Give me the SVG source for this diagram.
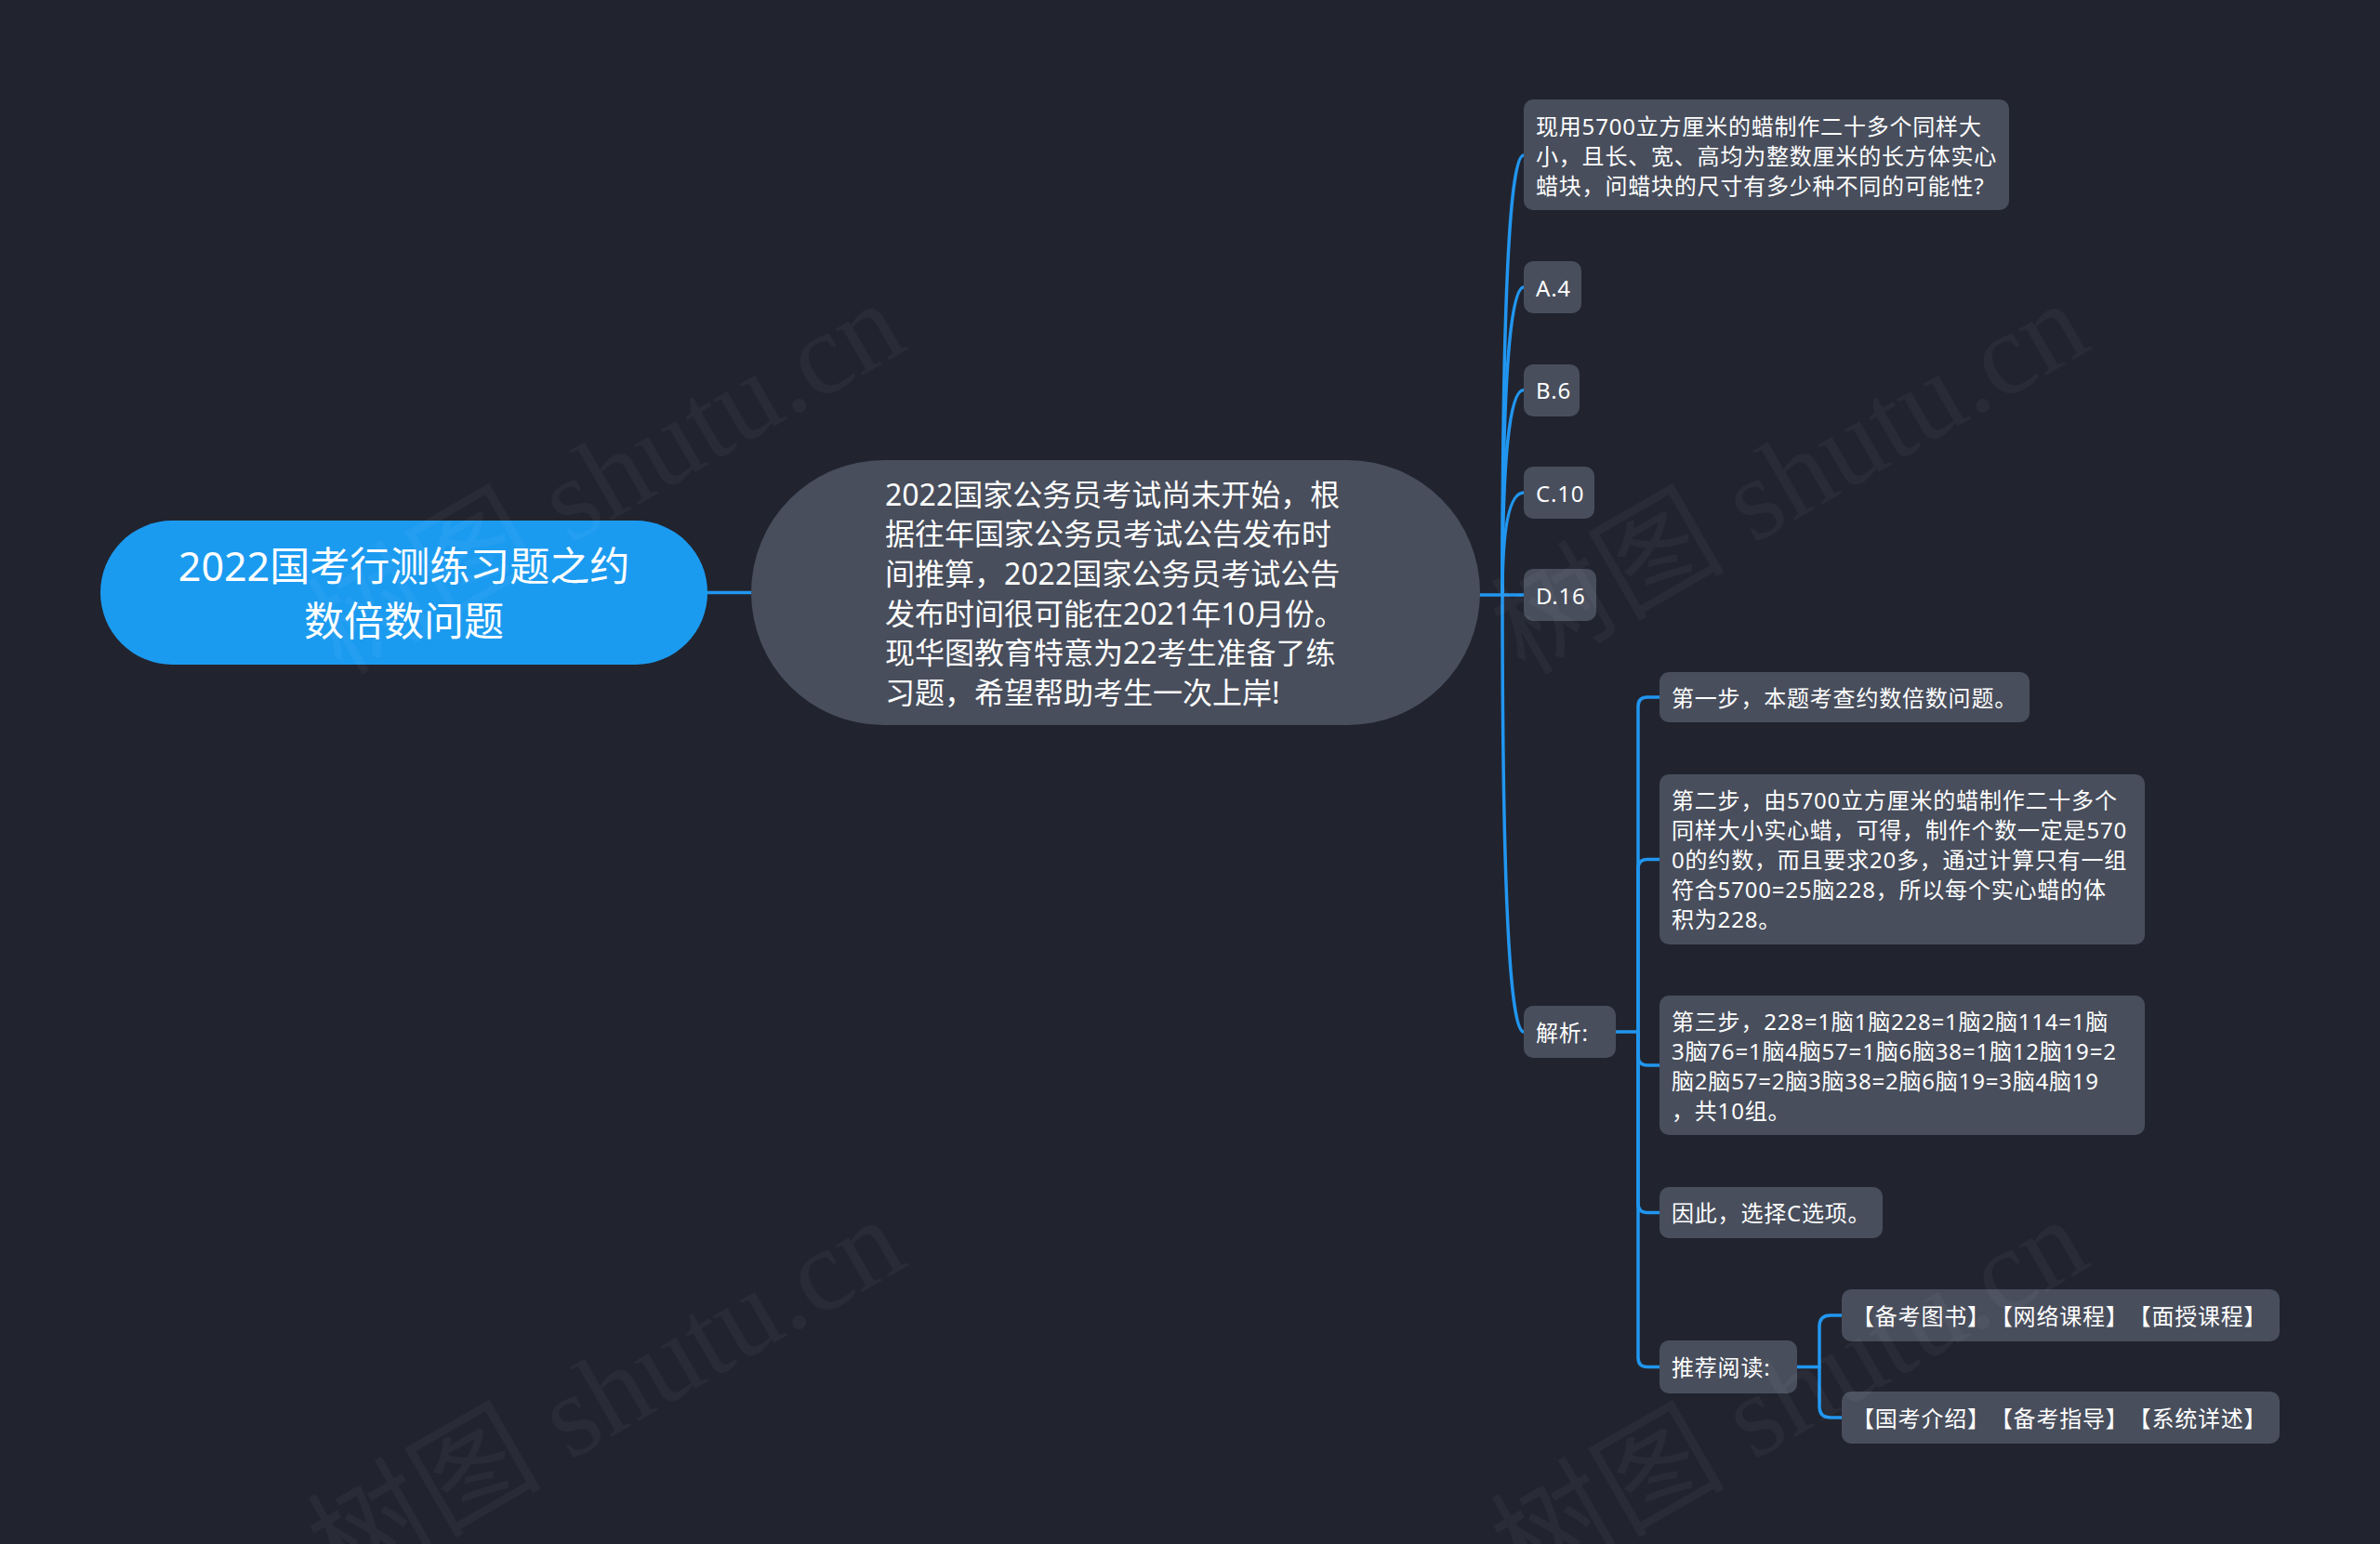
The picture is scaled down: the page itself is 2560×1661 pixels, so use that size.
<svg xmlns="http://www.w3.org/2000/svg" width="2560" height="1661" viewBox="0 0 2560 1661">
<style>
.bg{fill:#21242f}
.node{fill:#484e5c}
.root{fill:#1b9bf0}
.t{font-family:"Noto Sans","Noto Sans CJK SC",sans-serif;fill:#ffffff;dominant-baseline:central;text-spacing-trim:space-all}
.t24{font-size:24px;letter-spacing:0.8px}
.t32{font-size:32px}
.t43{font-size:43px}
.conn{fill:none;stroke:#2196f0;stroke-width:3.5;stroke-linecap:round}
.wm{font-family:"Liberation Serif","Noto Sans CJK SC",serif;font-size:126px;fill:#ffffff;fill-opacity:0.04}
</style>
<rect class="bg" x="0" y="0" width="2560" height="1661"/>

<g id="connectors">
  <path class="conn" d="M761 637.5 H808"/>
  <path class="conn" d="M1592 640 H1616"/>
  <path class="conn" d="M1616 640 Q1616 167 1639 167"/>
  <path class="conn" d="M1616 640 Q1616 309 1639 309"/>
  <path class="conn" d="M1616 640 Q1616 419.5 1639 419.5"/>
  <path class="conn" d="M1616 640 Q1616 530 1639 530"/>
  <path class="conn" d="M1616 640 H1639"/>
  <path class="conn" d="M1616 640 Q1616 1110 1639 1110"/>
  <path class="conn" d="M1738 1110 H1762"/>
  <path class="conn" d="M1762 1110 V760 Q1762 750 1772 750 H1785"/>
  <path class="conn" d="M1762 1110 V934.5 Q1762 924.5 1772 924.5 H1785"/>
  <path class="conn" d="M1762 1110 V1136 Q1762 1146 1772 1146 H1785"/>
  <path class="conn" d="M1762 1110 V1294.5 Q1762 1304.5 1772 1304.5 H1785"/>
  <path class="conn" d="M1762 1110 V1460.5 Q1762 1470.5 1772 1470.5 H1785"/>
  <path class="conn" d="M1933 1470.5 H1957"/>
  <path class="conn" d="M1957 1470.5 V1427 Q1957 1415 1969 1415 H1981"/>
  <path class="conn" d="M1957 1470.5 V1513 Q1957 1525 1969 1525 H1981"/>
</g>

<g id="root">
  <rect class="root" x="108" y="560" width="653" height="155" rx="77.5"/>
  <text class="t t43" x="434.5" y="608" text-anchor="middle">2022国考行测练习题之约</text>
  <text class="t t43" x="434.5" y="667" text-anchor="middle">数倍数问题</text>
</g>

<g id="intro">
  <rect class="node" x="808" y="495" width="784" height="285" rx="142.5"/>
  <text class="t t32" x="952" y="531">2022国家公务员考试尚未开始，根</text>
  <text class="t t32" x="952" y="573.5">据往年国家公务员考试公告发布时</text>
  <text class="t t32" x="952" y="616">间推算，2022国家公务员考试公告</text>
  <text class="t t32" x="952" y="659">发布时间很可能在2021年10月份。</text>
  <text class="t t32" x="952" y="701.5">现华图教育特意为22考生准备了练</text>
  <text class="t t32" x="952" y="744">习题，希望帮助考生一次上岸!</text>
</g>

<g id="question">
  <rect class="node" x="1639" y="107" width="522" height="119" rx="10"/>
  <text class="t t24" x="1652" y="135">现用5700立方厘米的蜡制作二十多个同样大</text>
  <text class="t t24" x="1652" y="167">小，且长、宽、高均为整数厘米的长方体实心</text>
  <text class="t t24" x="1652" y="199.5">蜡块，问蜡块的尺寸有多少种不同的可能性?</text>
</g>

<g id="optA">
  <rect class="node" x="1639" y="281" width="62" height="56" rx="10"/>
  <text class="t t24" x="1652" y="309">A.4</text>
</g>
<g id="optB">
  <rect class="node" x="1639" y="392" width="60" height="56" rx="10"/>
  <text class="t t24" x="1652" y="419.5">B.6</text>
</g>
<g id="optC">
  <rect class="node" x="1639" y="502" width="76" height="56" rx="10"/>
  <text class="t t24" x="1652" y="530">C.10</text>
</g>
<g id="optD">
  <rect class="node" x="1639" y="612" width="78" height="56" rx="10"/>
  <text class="t t24" x="1652" y="640">D.16</text>
</g>

<g id="analysis">
  <rect class="node" x="1639" y="1082" width="99" height="56" rx="10"/>
  <text class="t t24" x="1652" y="1110">解析:</text>
</g>

<g id="step1">
  <rect class="node" x="1785" y="723" width="398" height="54" rx="10"/>
  <text class="t t24" x="1798" y="750">第一步，本题考查约数倍数问题。</text>
</g>

<g id="step2">
  <rect class="node" x="1785" y="833" width="522" height="183" rx="10"/>
  <text class="t t24" x="1798" y="860.5">第二步，由5700立方厘米的蜡制作二十多个</text>
  <text class="t t24" x="1798" y="892.5">同样大小实心蜡，可得，制作个数一定是570</text>
  <text class="t t24" x="1798" y="924.5">0的约数，而且要求20多，通过计算只有一组</text>
  <text class="t t24" x="1798" y="956.5">符合5700=25脑228，所以每个实心蜡的体</text>
  <text class="t t24" x="1798" y="988.5">积为228。</text>
</g>

<g id="step3">
  <rect class="node" x="1785" y="1071" width="522" height="150" rx="10"/>
  <text class="t t24" x="1798" y="1098">第三步，228=1脑1脑228=1脑2脑114=1脑</text>
  <text class="t t24" x="1798" y="1130">3脑76=1脑4脑57=1脑6脑38=1脑12脑19=2</text>
  <text class="t t24" x="1798" y="1162">脑2脑57=2脑3脑38=2脑6脑19=3脑4脑19</text>
  <text class="t t24" x="1798" y="1194">，共10组。</text>
</g>

<g id="conclusion">
  <rect class="node" x="1785" y="1277" width="240" height="55" rx="10"/>
  <text class="t t24" x="1798" y="1304.5">因此，选择C选项。</text>
</g>

<g id="reading">
  <rect class="node" x="1785" y="1442" width="148" height="57" rx="10"/>
  <text class="t t24" x="1798" y="1470.5">推荐阅读:</text>
</g>

<g id="reading1">
  <rect class="node" x="1981" y="1387" width="471" height="56" rx="10"/>
  <text class="t t24" x="1992" y="1415">【备考图书】【网络课程】【面授课程】</text>
</g>

<g id="reading2">
  <rect class="node" x="1981" y="1497" width="471" height="56" rx="10"/>
  <text class="t t24" x="1992" y="1525">【国考介绍】【备考指导】【系统详述】</text>
</g>

<g id="watermarks">
  <text class="wm" x="652" y="514" text-anchor="middle" dominant-baseline="central" transform="rotate(-30 652 514)">树图 shutu.cn</text>
  <text class="wm" x="1925" y="514" text-anchor="middle" dominant-baseline="central" transform="rotate(-30 1925 514)">树图 shutu.cn</text>
  <text class="wm" x="652" y="1500" text-anchor="middle" dominant-baseline="central" transform="rotate(-30 652 1500)">树图 shutu.cn</text>
  <text class="wm" x="1925" y="1500" text-anchor="middle" dominant-baseline="central" transform="rotate(-30 1925 1500)">树图 shutu.cn</text>
</g>
</svg>
